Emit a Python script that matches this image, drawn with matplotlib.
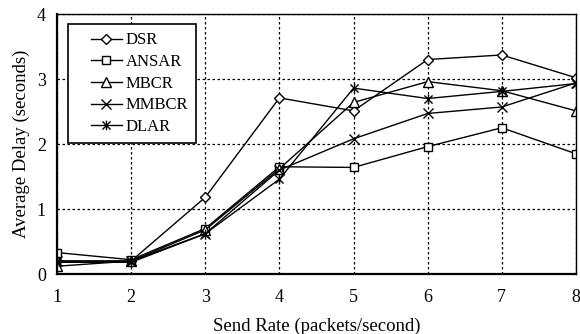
import matplotlib
matplotlib.use("Agg")
import matplotlib.pyplot as plt
from matplotlib.path import Path
from matplotlib.lines import Line2D
from matplotlib.legend_handler import HandlerLine2D

plt.rcParams['font.family'] = ['Liberation Serif', 'DejaVu Serif']

send_rate = [1, 2, 3, 4, 5, 6, 7, 8]
dsr = [0.20, 0.20, 1.18, 2.71, 2.51, 3.30, 3.37, 3.02]
ansar = [0.33, 0.22, 0.70, 1.65, 1.64, 1.96, 2.25, 1.85]
mbcr = [0.12, 0.20, 0.68, 1.62, 2.64, 2.96, 2.82, 2.51]
mmbcr = [0.20, 0.20, 0.62, 1.60, 2.08, 2.47, 2.57, 2.94]
dlar = [0.18, 0.18, 0.62, 1.46, 2.86, 2.70, 2.81, 2.93]

series = [("DSR", dsr), ("ANSAR", ansar), ("MBCR", mbcr), ("MMBCR", mmbcr), ("DLAR", dlar)]

# custom marker: x with a vertical bar
xbar = Path([(-1, -1), (1, 1), (-1, 1), (1, -1), (0, -1.2), (0, 1.2)],
            [Path.MOVETO, Path.LINETO, Path.MOVETO, Path.LINETO, Path.MOVETO, Path.LINETO])

styles = {
    "DSR": dict(marker='D', ms=5, mfc='white'),
    "ANSAR": dict(marker='s', ms=6, mfc='white'),
    "MBCR": dict(marker='^', ms=7, mfc='white'),
    "MMBCR": dict(marker='x', ms=7, mew=1.0),
    "DLAR": dict(marker=xbar, ms=7, mew=1.0),
}


class ShiftedHandler(HandlerLine2D):
    def __init__(self, shift, **kw):
        super().__init__(**kw)
        self.shift = shift

    def create_artists(self, legend, orig_handle, xdescent, ydescent, width,
                       height, fontsize, trans):
        s = self.shift
        return super().create_artists(legend, orig_handle, xdescent - s, ydescent,
                                      width - s, height, fontsize, trans)


fig = plt.figure(figsize=(5.8, 3.34), dpi=100)
ax = fig.add_axes([0.0983, 0.1796, 0.8947, 0.7784])

for name, vals in series:
    st = styles[name]
    ax.plot(send_rate, vals, color='black', lw=1.0, mec='black', label=name, **st)

ax.set_xlim(1, 8)
ax.set_ylim(0, 4)
ax.set_xticks(send_rate)
ax.set_yticks([0, 1, 2, 3, 4])
ax.grid(True, color='black', linestyle=(0, (2, 2)), linewidth=0.9)
ax.tick_params(direction='in', length=0, labelsize=13)
ax.tick_params(axis='x', pad=11)
ax.tick_params(axis='y', pad=8)
for s in ['left', 'bottom']:
    ax.spines[s].set_linewidth(1.6)
for s in ['top', 'right']:
    ax.spines[s].set_linewidth(1.0)

ax.set_xlabel("Send Rate (packets/second)", fontsize=13.5, labelpad=8)
ax.set_ylabel("Average Delay (seconds)", fontsize=13.5, labelpad=5)

leg = ax.legend(loc='upper left', bbox_to_anchor=(0.0212, 0.9615), fontsize=12,
                frameon=True, fancybox=False, edgecolor='black', framealpha=1,
                handlelength=2.74, handletextpad=0.2, labelspacing=0.34,
                borderpad=0.5, borderaxespad=0,
                handler_map={Line2D: ShiftedHandler(shift=10.5)})
leg.get_frame().set_linewidth(1.2)

fig.savefig("out.png", dpi=100)
